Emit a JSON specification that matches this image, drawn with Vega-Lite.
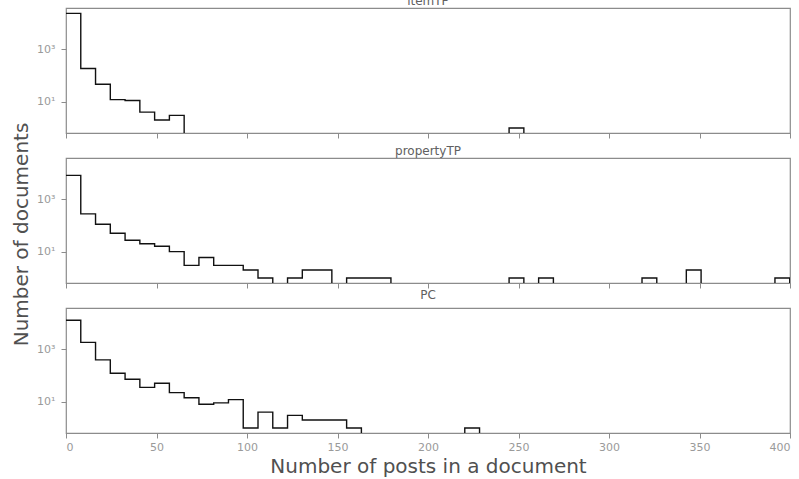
{
  "$schema": "https://vega.github.io/schema/vega-lite/v6.json",
  "background": "white",
  "padding": {"left": 10, "top": -6, "right": 0, "bottom": 2},
  "spacing": 25,
  "bounds": "flush",
  "datasets": {
    "itemTP": [
      {"bin_start": 0, "count": 23000},
      {"bin_start": 8.16, "count": 182},
      {"bin_start": 16.32, "count": 46},
      {"bin_start": 24.48, "count": 12},
      {"bin_start": 32.64, "count": 11},
      {"bin_start": 40.8, "count": 4},
      {"bin_start": 48.96, "count": 2},
      {"bin_start": 57.12, "count": 3},
      {"bin_start": 65.28, "count": 0},
      {"bin_start": 73.44, "count": 0},
      {"bin_start": 81.6, "count": 0},
      {"bin_start": 89.76, "count": 0},
      {"bin_start": 97.92, "count": 0},
      {"bin_start": 106.08, "count": 0},
      {"bin_start": 114.24, "count": 0},
      {"bin_start": 122.4, "count": 0},
      {"bin_start": 130.56, "count": 0},
      {"bin_start": 138.72, "count": 0},
      {"bin_start": 146.88, "count": 0},
      {"bin_start": 155.04, "count": 0},
      {"bin_start": 163.2, "count": 0},
      {"bin_start": 171.36, "count": 0},
      {"bin_start": 179.52, "count": 0},
      {"bin_start": 187.68, "count": 0},
      {"bin_start": 195.84, "count": 0},
      {"bin_start": 204, "count": 0},
      {"bin_start": 212.16, "count": 0},
      {"bin_start": 220.32, "count": 0},
      {"bin_start": 228.48, "count": 0},
      {"bin_start": 236.64, "count": 0},
      {"bin_start": 244.8, "count": 1},
      {"bin_start": 252.96, "count": 0}
    ],
    "propertyTP": [
      {"bin_start": 0, "count": 8000},
      {"bin_start": 8.16, "count": 275},
      {"bin_start": 16.32, "count": 111},
      {"bin_start": 24.48, "count": 50},
      {"bin_start": 32.64, "count": 27},
      {"bin_start": 40.8, "count": 20},
      {"bin_start": 48.96, "count": 16},
      {"bin_start": 57.12, "count": 10},
      {"bin_start": 65.28, "count": 3},
      {"bin_start": 73.44, "count": 6},
      {"bin_start": 81.6, "count": 3},
      {"bin_start": 89.76, "count": 3},
      {"bin_start": 97.92, "count": 2},
      {"bin_start": 106.08, "count": 1},
      {"bin_start": 114.24, "count": 0},
      {"bin_start": 122.4, "count": 1},
      {"bin_start": 130.56, "count": 2},
      {"bin_start": 138.72, "count": 2},
      {"bin_start": 146.88, "count": 0},
      {"bin_start": 155.04, "count": 1},
      {"bin_start": 163.2, "count": 1},
      {"bin_start": 171.36, "count": 1},
      {"bin_start": 179.52, "count": 0},
      {"bin_start": 187.68, "count": 0},
      {"bin_start": 195.84, "count": 0},
      {"bin_start": 204, "count": 0},
      {"bin_start": 212.16, "count": 0},
      {"bin_start": 220.32, "count": 0},
      {"bin_start": 228.48, "count": 0},
      {"bin_start": 236.64, "count": 0},
      {"bin_start": 244.8, "count": 1},
      {"bin_start": 252.96, "count": 0},
      {"bin_start": 261.12, "count": 1},
      {"bin_start": 269.28, "count": 0},
      {"bin_start": 277.44, "count": 0},
      {"bin_start": 285.6, "count": 0},
      {"bin_start": 293.76, "count": 0},
      {"bin_start": 301.92, "count": 0},
      {"bin_start": 310.08, "count": 0},
      {"bin_start": 318.24, "count": 1},
      {"bin_start": 326.4, "count": 0},
      {"bin_start": 334.56, "count": 0},
      {"bin_start": 342.72, "count": 2},
      {"bin_start": 350.88, "count": 0},
      {"bin_start": 359.04, "count": 0},
      {"bin_start": 367.2, "count": 0},
      {"bin_start": 375.36, "count": 0},
      {"bin_start": 383.52, "count": 0},
      {"bin_start": 391.68, "count": 1},
      {"bin_start": 399.84, "count": 0}
    ],
    "PC": [
      {"bin_start": 0, "count": 12500},
      {"bin_start": 8.16, "count": 1800},
      {"bin_start": 16.32, "count": 390},
      {"bin_start": 24.48, "count": 121},
      {"bin_start": 32.64, "count": 71},
      {"bin_start": 40.8, "count": 35},
      {"bin_start": 48.96, "count": 50},
      {"bin_start": 57.12, "count": 22},
      {"bin_start": 65.28, "count": 14},
      {"bin_start": 73.44, "count": 8},
      {"bin_start": 81.6, "count": 9},
      {"bin_start": 89.76, "count": 12},
      {"bin_start": 97.92, "count": 1},
      {"bin_start": 106.08, "count": 4},
      {"bin_start": 114.24, "count": 1},
      {"bin_start": 122.4, "count": 3},
      {"bin_start": 130.56, "count": 2},
      {"bin_start": 138.72, "count": 2},
      {"bin_start": 146.88, "count": 2},
      {"bin_start": 155.04, "count": 1},
      {"bin_start": 163.2, "count": 0},
      {"bin_start": 171.36, "count": 0},
      {"bin_start": 179.52, "count": 0},
      {"bin_start": 187.68, "count": 0},
      {"bin_start": 195.84, "count": 0},
      {"bin_start": 204, "count": 0},
      {"bin_start": 212.16, "count": 0},
      {"bin_start": 220.32, "count": 1},
      {"bin_start": 228.48, "count": 0}
    ]
  },
  "vconcat": [
    {
      "title": {"text": "itemTP", "offset": 0},
      "width": 724,
      "height": 125,
      "data": {"name": "itemTP"},
      "mark": {"type": "line", "interpolate": "step-after", "color": "#111111", "strokeWidth": 1.4, "clip": true},
      "encoding": {
        "x": {"field": "bin_start", "type": "quantitative",
              "scale": {"domain": [0, 400], "nice": false, "zero": false},
              "axis": {"values": [0, 50, 100, 150, 200, 250, 300, 350, 400], "labels": false, "title": null}},
        "y": {"field": "count", "type": "quantitative",
              "scale": {"type": "log", "domain": [0.493, 36700], "range": [128, 0], "nice": false, "clamp": true},
              "axis": {"values": [10, 1000], "labelExpr": "datum.value == 1000 ? '10³' : '10¹'",
                       "title": "Number of documents", "titleX": -38.7, "titleY": 226,
                       "titleBaseline": "alphabetic", "titleAlign": "center", "titleAngle": -90}}
      }
    },
    {
      "title": {"text": "propertyTP", "offset": 0},
      "width": 724,
      "height": 125,
      "data": {"name": "propertyTP"},
      "mark": {"type": "line", "interpolate": "step-after", "color": "#111111", "strokeWidth": 1.4, "clip": true},
      "encoding": {
        "x": {"field": "bin_start", "type": "quantitative",
              "scale": {"domain": [0, 400], "nice": false, "zero": false},
              "axis": {"values": [0, 50, 100, 150, 200, 250, 300, 350, 400], "labels": false, "title": null}},
        "y": {"field": "count", "type": "quantitative",
              "scale": {"type": "log", "domain": [0.493, 36700], "range": [128, 0], "nice": false, "clamp": true},
              "axis": {"values": [10, 1000], "labelExpr": "datum.value == 1000 ? '10³' : '10¹'", "title": null}}
      }
    },
    {
      "title": {"text": "PC", "offset": 6},
      "width": 724,
      "height": 125,
      "data": {"name": "PC"},
      "mark": {"type": "line", "interpolate": "step-after", "color": "#111111", "strokeWidth": 1.4, "clip": true},
      "encoding": {
        "x": {"field": "bin_start", "type": "quantitative",
              "scale": {"domain": [0, 400], "nice": false, "zero": false},
              "axis": {"values": [0, 50, 100, 150, 200, 250, 300, 350, 400], "title": "Number of posts in a document", "titlePadding": 4}},
        "y": {"field": "count", "type": "quantitative",
              "scale": {"type": "log", "domain": [0.493, 36700], "range": [128, 0], "nice": false, "clamp": true},
              "axis": {"values": [10, 1000], "labelExpr": "datum.value == 1000 ? '10³' : '10¹'", "title": null}}
      }
    }
  ],
  "config": {
    "view": {"stroke": "#8c8c8c", "strokeWidth": 1.2},
    "axis": {
      "grid": false,
      "zindex": 1,
      "domainColor": "#8c8c8c",
      "domainWidth": 1.2,
      "tickColor": "#8c8c8c",
      "tickSize": 5,
      "labelColor": "#9a9a9a",
      "labelFont": "DejaVu Sans",
      "labelFontSize": 11,
      "labelPadding": 3,
      "titleFont": "DejaVu Sans",
      "titleFontSize": 20,
      "titleFontWeight": "normal",
      "titleColor": "#505050"
    },
    "axisY": {"labelPadding": 6, "domain": false},
    "title": {"font": "DejaVu Sans", "fontSize": 12, "fontWeight": "normal", "color": "#606060", "anchor": "middle"}
  }
}
